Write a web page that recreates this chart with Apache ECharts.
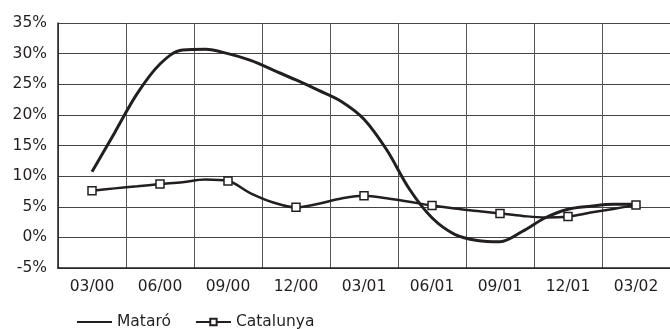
<!DOCTYPE html>
<html>
<head>
<meta charset="utf-8">
<script src="https://cdn.jsdelivr.net/npm/echarts@6/dist/echarts.min.js"></script>
<style>
  html, body { margin: 0; padding: 0; background: #fff; }
  #chart { width: 670px; height: 329px; }
</style>
</head>
<body>
<div id="chart"></div>
<script>
// etiquetes trimestrals de l'eix X
var quarters = ['03/00', '06/00', '09/00', '12/00', '03/01', '06/01', '09/01', '12/01', '03/02'];
// mesos des de 03/00 (0..24)
var months = [0, 1, 2, 3, 4, 5, 6, 7, 8, 9, 10, 11, 12, 13, 14, 15, 16, 17, 18, 19, 20, 21, 22, 23, 24];
var mataro = [10.7, 17.1, 23.5, 28.3, 30.6, 30.7, 30.0, 28.9, 27.3, 25.7, 24.0, 22.2, 19.3,
              14.3, 7.9, 3.2, 0.5, -0.5, -0.7, 1.0, 3.2, 4.6, 5.1, 5.4, 5.4];
var catalunya = [7.6, 8.0, 8.35, 8.7, 9.0, 9.45, 9.2, 7.2, 5.7, 4.9, 5.5, 6.35, 6.8,
                 6.4, 5.8, 5.2, 4.7, 4.3, 3.9, 3.5, 3.25, 3.4, 4.05, 4.65, 5.3];
var yTicks = [-5, 0, 5, 10, 15, 20, 25, 30, 35];

var ink = '#231f20';
var font = 'DejaVu Sans';

function pairs(vals, marked) {
    var ret = [];
    for (var i = 0; i < months.length; i++) {
        var item = { value: [months[i], vals[i]] };
        if (marked) item.symbol = (months[i] % 3 === 0) ? 'rect' : 'none';
        ret.push(item);
    }
    return ret;
}

var chart = echarts.init(document.getElementById('chart'));
chart.setOption({
    animation: false,
    grid: { left: 58, top: 23, right: 0, bottom: 61, containLabel: false },
    legend: {
        left: 71,
        top: 309,
        itemWidth: 35,
        itemHeight: 8,
        itemGap: 24,
        textStyle: { fontFamily: font, fontSize: 15.5, color: ink },
        data: [
            { name: 'Mataró', itemStyle: { opacity: 0 } },
            'Catalunya'
        ]
    },
    xAxis: [
        {
            type: 'category',
            data: quarters,
            boundaryGap: true,
            axisLine: { onZero: false, lineStyle: { color: ink, width: 1.5 } },
            axisTick: { show: false },
            axisLabel: { fontFamily: font, fontSize: 15.5, color: ink, margin: 11 },
            splitLine: { show: true, lineStyle: { color: '#555', width: 1 } }
        },
        {
            type: 'value',
            show: false,
            min: months[0] - 1.5,
            max: months[months.length - 1] + 1.5
        }
    ],
    yAxis: {
        type: 'value',
        min: yTicks[0],
        max: yTicks[yTicks.length - 1],
        interval: 5,
        axisLine: { show: true, onZero: false, lineStyle: { color: ink, width: 1.5 } },
        axisTick: { show: false },
        axisLabel: { fontFamily: font, fontSize: 15.5, color: ink, margin: 11, formatter: '{value}%' },
        splitLine: { show: true, lineStyle: { color: '#444', width: 1 } }
    },
    series: [
        {
            name: 'Mataró',
            type: 'line',
            xAxisIndex: 1,
            data: pairs(mataro, false),
            smooth: 0.35,
            symbol: 'none',
            lineStyle: { color: ink, width: 3 },
            itemStyle: { color: ink },
            z: 3
        },
        {
            name: 'Catalunya',
            type: 'line',
            xAxisIndex: 1,
            data: pairs(catalunya, true),
            smooth: 0.35,
            symbol: 'rect',
            symbolSize: 8,
            showAllSymbol: true,
            lineStyle: { color: ink, width: 2.5 },
            itemStyle: { color: '#fff', borderColor: ink, borderWidth: 1.5 },
            z: 4
        }
    ]
});
</script>
</body>
</html>
